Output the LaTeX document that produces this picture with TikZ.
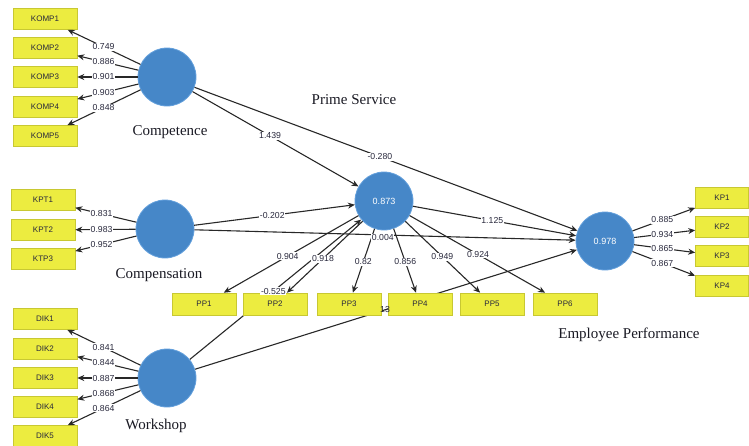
\documentclass[tikz,border=0pt]{standalone}
\usepackage{fontspec}
\setmainfont{Liberation Serif}
\newfontfamily\numfont{Liberation Sans}
\usetikzlibrary{arrows.meta,calc}
\definecolor{lvblue}{RGB}{70,135,200}
\definecolor{lvedge}{RGB}{100,160,220}
\definecolor{indfill}{RGB}{236,236,64}
\definecolor{indedge}{RGB}{200,200,50}
\definecolor{numcol}{RGB}{40,40,60}
\definecolor{linecol}{RGB}{40,40,40}
\definecolor{namecol}{RGB}{25,25,35}
\pgfdeclarelayer{bg}
\pgfsetlayers{bg,main}
\tikzset{
  lv/.style={circle, fill=lvblue, draw=lvedge, line width=0.8pt, minimum size=58pt, inner sep=0pt, text=white, font=\numfont\fontsize{9}{10}\selectfont},
  ind/.style={rectangle, fill=indfill, draw=indedge, line width=0.6pt, minimum width=64pt, minimum height=21pt, inner sep=0pt, font=\numfont\fontsize{8}{9}\selectfont, text=numcol},
  indr/.style={ind, minimum width=53pt},
  conn/.style={draw=linecol, line width=1.1pt, -{Stealth[length=7pt,width=6pt]}},
  coef/.style={fill=white, inner sep=0.8pt, font=\numfont\fontsize{8.7}{9}\selectfont, text=numcol},
  coefnb/.style={inner sep=0.8pt, font=\numfont\fontsize{8.7}{9}\selectfont, text=numcol},
  lvname/.style={font=\fontsize{15}{16}\selectfont, text=namecol}
}
\begin{document}
\begin{tikzpicture}[x=1pt,y=-1pt]
\path[use as bounding box] (0,0) rectangle (749,445);
\clip (0,0) rectangle (749,445);
% latent variables
\node[lv] (comp) at (167,77) {};
\node[lv] (cpn) at (165,229) {};
\node[lv] (ws) at (167,378) {};
\node[lv] (ps) at (384,201) {0.873};
\node[lv] (ep) at (605,241) {0.978};
% names
\node[lvname] (compL) at (170,132) {Competence};
\node[lvname] (cpnL) at (159,275) {Compensation};
\node[lvname] (wsL) at (156,426) {Workshop};
\node[lvname] (psL) at (354,100) {Prime Service};
\node[lvname] (epL) at (629,335) {Employee Performance};
% indicators
\node[ind] (k1) at (45,19) {KOMP1};
\node[ind] (k2) at (45,48) {KOMP2};
\node[ind] (k3) at (45,77) {KOMP3};
\node[ind] (k4) at (45,107) {KOMP4};
\node[ind] (k5) at (45,136) {KOMP5};
\node[ind] (c1) at (43,200) {KPT1};
\node[ind] (c2) at (43,230) {KPT2};
\node[ind] (c3) at (43,259) {KTP3};
\node[ind] (d1) at (45,319) {DIK1};
\node[ind] (d2) at (45,349) {DIK2};
\node[ind] (d3) at (45,378) {DIK3};
\node[ind] (d4) at (45,407) {DIK4};
\node[ind] (d5) at (45,436) {DIK5};
\node[ind,minimum height=22pt] (p1) at (204,304) {PP1};
\node[ind,minimum height=22pt] (p2) at (275,304) {PP2};
\node[ind,minimum height=22pt] (p3) at (349,304) {PP3};
\node[ind,minimum height=22pt] (p4) at (420,304) {PP4};
\node[ind,minimum height=22pt] (p5) at (492,304) {PP5};
\node[ind,minimum height=22pt] (p6) at (565,304) {PP6};
\node[indr] (e1) at (722,198) {KP1};
\node[indr] (e2) at (722,227) {KP2};
\node[indr] (e3) at (722,256) {KP3};
\node[indr] (e4) at (722,286) {KP4};
% competence loadings
\draw[conn] (comp) -- (k1); \node[coef] at ($(comp)!.52!(k1)$) {0.749};
\draw[conn] (comp) -- (k2); \node[coef] at ($(comp)!.52!(k2)$) {0.886};
\draw[conn] (comp) -- (k3); \node[coef] at ($(comp)!.52!(k3)$) {0.901};
\draw[conn] (comp) -- (k4); \node[coef] at ($(comp)!.52!(k4)$) {0.903};
\draw[conn] (comp) -- (k5); \node[coef] at ($(comp)!.52!(k5)$) {0.848};
% compensation loadings
\draw[conn] (cpn) -- (c1); \node[coef] at ($(cpn)!.52!(c1)$) {0.831};
\draw[conn] (cpn) -- (c2); \node[coef] at ($(cpn)!.52!(c2)$) {0.983};
\draw[conn] (cpn) -- (c3); \node[coef] at ($(cpn)!.52!(c3)$) {0.952};
% workshop loadings
\draw[conn] (ws) -- (d1); \node[coef] at ($(ws)!.52!(d1)$) {0.841};
\draw[conn] (ws) -- (d2); \node[coef] at ($(ws)!.52!(d2)$) {0.844};
\draw[conn] (ws) -- (d3); \node[coef] at ($(ws)!.52!(d3)$) {0.887};
\draw[conn] (ws) -- (d4); \node[coef] at ($(ws)!.52!(d4)$) {0.868};
\draw[conn] (ws) -- (d5); \node[coef] at ($(ws)!.52!(d5)$) {0.864};
% employee performance loadings
\draw[conn] (ep) -- (e1); \node[coef] at ($(ep)!.49!(e1)$) {0.885};
\draw[conn] (ep) -- (e2); \node[coef] at ($(ep)!.49!(e2)$) {0.934};
\draw[conn] (ep) -- (e3); \node[coef] at ($(ep)!.49!(e3)$) {0.865};
\draw[conn] (ep) -- (e4); \node[coef] at ($(ep)!.49!(e4)$) {0.867};
% prime service loadings
\draw[conn] (ps) -- (p1); \node[coef] at ($(ps)!.535!(p1)$) {0.904};
\draw[conn] (ps) -- (p2); \node[coef] at ($(ps)!.56!(p2)$) {0.918};
\draw[conn] (ps) -- (p3); \node[coef] at ($(ps)!.59!(p3)$) {0.82};
\draw[conn] (ps) -- (p4); \node[coef] at ($(ps)!.59!(p4)$) {0.856};
\draw[conn] (ps) -- (p5); \node[coef] at ($(ps)!.54!(p5)$) {0.949};
\draw[conn] (ps) -- (p6); \node[coef] at ($(ps)!.52!(p6)$) {0.924};
% structural paths
\draw[conn] (comp) -- (ps); \node[coef] at ($(comp)!.475!(ps)$) {1.439};
\draw[conn] (comp) -- (ep); \node[coef] at ($(comp)!.486!(ep)$) {-0.280};
\draw[conn] (cpn) -- (ps); \node[coef] at ($(cpn)!.49!(ps)$) {-0.202};
\draw[conn] (cpn) -- (ep);
\node[coef] at ($(cpn)!.495!(ep)+(0,3)$) {0.004};
\draw[conn] (ps) -- (ep); \node[coef] at ($(ps)!.49!(ep)$) {1.125};
\begin{pgfonlayer}{bg}
\draw[conn] (ws) -- (ps);
\draw[conn] (ws) -- (ep);
\end{pgfonlayer}
\node[coef] at ($(ws)!.49!(ps)$) {-0.525};
\node[coefnb] (wsep) at (385,309) {13};
\end{tikzpicture}
\end{document}
